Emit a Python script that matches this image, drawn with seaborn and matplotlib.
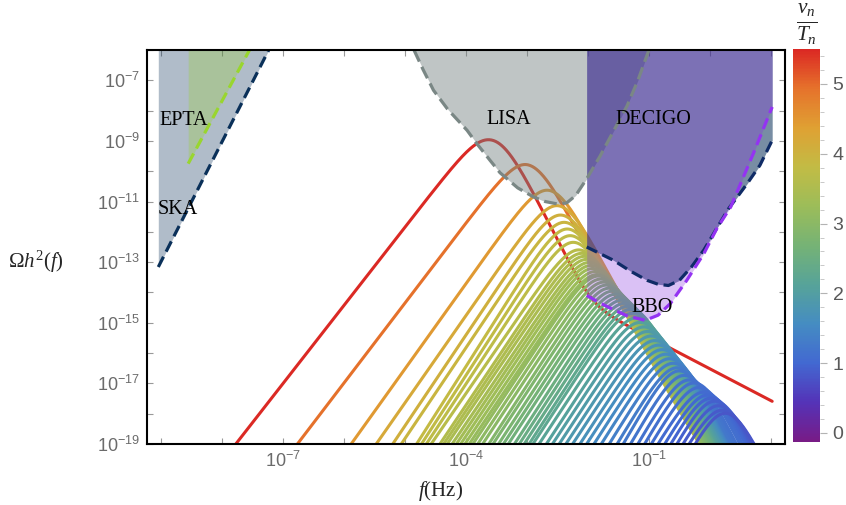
import numpy as np
import matplotlib
matplotlib.use("Agg")
import matplotlib.pyplot as plt
import seaborn as sns
from matplotlib.colors import LinearSegmentedColormap, Normalize
from matplotlib.ticker import FixedLocator, FuncFormatter
from matplotlib.cm import ScalarMappable

# ---------------- data (log10 values) ----------------
# colour value v_n/T_n of every spectrum
vt = [5.50, 4.95, 4.45, 4.20, 4.05, 3.95, 3.85, 3.78, 3.72, 3.66,
      3.58, 3.52, 3.47, 3.41, 3.36, 3.30, 3.24, 3.18,
      3.12, 3.05, 2.98, 2.90, 2.83, 2.76, 2.68, 2.60, 2.52, 2.45, 2.38, 2.30,
      2.25, 2.17, 2.08, 2.00, 1.92, 1.84, 1.76, 1.68, 1.60, 1.52, 1.44, 1.36, 1.30,
      1.25, 1.20, 1.16, 1.12, 1.08, 1.04, 1.00, 0.96, 0.92, 0.88, 0.84, 0.80]
# log10 f where the spectrum crosses the bottom of the frame (rising side)
f_bottom = [-7.77, -6.75, -5.87, -5.46, -5.19, -5.05, -4.80, -4.72, -4.64, -4.56,
            -4.42, -4.36, -4.30, -4.22, -4.15, -4.08, -4.01, -3.94,
            -3.88, -3.80, -3.72, -3.62, -3.55, -3.46, -3.38, -3.30, -3.20, -3.12, -3.04, -2.96,
            -2.90, -2.80, -2.68, -2.58, -2.47, -2.36, -2.25, -2.13, -2.02, -1.90, -1.78, -1.65, -1.52,
            -1.42, -1.30, -1.18, -1.07, -0.96, -0.85, -0.74, -0.64, -0.54, -0.44, -0.34, -0.24]
# log10 peak frequency
f_peak = [-3.63, -3.03, -2.67, -2.51, -2.45, -2.39, -2.34, -2.29, -2.24, -2.15,
          -2.10, -2.06, -2.02, -1.98, -1.95, -1.92, -1.88, -1.85,
          -1.83, -1.79, -1.74, -1.70, -1.65, -1.60, -1.55, -1.50, -1.45, -1.40, -1.35, -1.30,
          -1.26, -1.20, -1.14, -1.08, -1.02, -0.96, -0.90, -0.84, -0.78, -0.72, -0.66, -0.60, -0.54,
          -0.50, -0.42, -0.34, -0.26, -0.18, -0.10, -0.04, 0.02, 0.08, 0.14, 0.20, 0.25]
# log10 peak amplitude
omega_peak = [-8.96, -9.84, -10.69, -11.20, -11.51, -11.75, -11.97, -12.19, -12.41, -12.66,
              -12.75, -12.85, -12.95, -13.05, -13.15, -13.25, -13.35, -13.45,
              -13.50, -13.60, -13.70, -13.80, -13.90, -14.00, -14.10, -14.20, -14.30, -14.40, -14.50, -14.60,
              -14.70, -14.85, -15.00, -15.15, -15.30, -15.45, -15.60, -15.75, -15.90, -16.05, -16.20, -16.35, -16.50,
              -16.60, -16.75, -16.90, -17.00, -17.15, -17.30, -17.40, -17.50, -17.60, -17.75, -17.90, -18.00]
# high-frequency tail: amplitude relative to the peak (log10) and slope
tail_rel = [-4.05, -0.82, -0.80, -0.80, -0.80, -0.80, -0.80, -0.80, -0.80, -0.80] + [-1.0] * 20 + [-1.5] * 25
tail_slope = [1.05, 2.67, 2.8, 2.8, 2.9, 2.9, 2.9, 3.0, 3.0, 3.0] + [3.0] * 45
f_max = 1.02  # last computed frequency (log10)

# detector sensitivity curves (log10 f, log10 Omega h^2)
ska_f, ska_o = [-9.04, -7.23], [-13.16, -6.0]
epta_f, epta_o = [-8.55, -7.545], [-9.75, -6.0]
lisa_f = [-4.85, -4.70, -4.53, -4.30, -3.98, -3.82, -3.60, -3.44, -3.15, -2.89, -2.70,
          -2.50, -2.35, -2.20, -2.02, -1.80, -1.60, -1.36, -1.18, -1.00]
lisa_o = [-6.0, -6.65, -7.33, -7.95, -8.65, -9.09, -9.65, -10.05, -10.55, -10.85, -11.0,
          -11.08, -11.05, -10.8, -10.25, -9.5, -8.75, -7.85, -7.0, -6.0]
decigo_f = [-2.02, -1.8, -1.58, -1.3, -1.03, -0.85, -0.68, -0.5, -0.3, -0.1, 0.06,
            0.3, 0.61, 0.82, 1.02]
decigo_o = [-12.5, -12.72, -12.94, -13.3, -13.6, -13.73, -13.77, -13.6, -13.15, -12.6,
            -12.06, -11.25, -10.41, -9.8, -8.98]
bbo_f = [-2.02, -1.8, -1.6, -1.35, -1.06, -0.85, -0.65, -0.38, -0.1, 0.11, 0.34, 0.71, 1.02]
bbo_o = [-14.1, -14.35, -14.55, -14.78, -14.92, -14.75, -14.37, -13.6, -12.72, -11.9,
         -11.18, -9.42, -7.88]

detector_names = ["EPTA", "SKA", "LISA", "DECIGO", "BBO"]
label_pos_f = [-8.63, -8.72, -3.30, -0.92, -0.94]
label_pos_o = [-8.32, -11.26, -8.30, -8.30, -14.49]

cbar_ticks = [0, 1, 2, 3, 4, 5]
x_label_exp = [-7, -4, -1]
y_label_exp = [-19, -17, -15, -13, -11, -9, -7]

# ---------------- style ----------------
sns.set_theme(style="white")
plt.rcParams.update({
    "font.family": ["Liberation Sans", "DejaVu Sans"],
    "mathtext.fontset": "custom",
    "mathtext.rm": "Liberation Serif",
    "mathtext.it": "Liberation Serif:italic",
    "mathtext.bf": "Liberation Serif:bold",
    "axes.edgecolor": "black",
    "axes.linewidth": 1.5,
})

rainbow = LinearSegmentedColormap.from_list("mma_rainbow", [
    (0.00, (0.471, 0.108, 0.527)),
    (0.10, (0.330, 0.200, 0.720)),
    (0.20, (0.260, 0.410, 0.820)),
    (0.30, (0.270, 0.550, 0.760)),
    (0.40, (0.340, 0.640, 0.600)),
    (0.50, (0.460, 0.700, 0.460)),
    (0.60, (0.610, 0.740, 0.350)),
    (0.70, (0.760, 0.735, 0.270)),
    (0.80, (0.875, 0.630, 0.200)),
    (0.90, (0.900, 0.450, 0.170)),
    (1.00, (0.860, 0.160, 0.140)),
])
norm = Normalize(vmin=-0.13, vmax=5.5)

fig = plt.figure(figsize=(8.46, 5.05), dpi=100)
ax = fig.add_axes([0.1734, 0.1208, 0.7545, 0.7802])
ax.set_xscale("log")
ax.set_yscale("log")


def sw_shape(x, a, b=4.0, c=3.0):
    return ((a + b) / (b * x ** (-a / c) + a * x ** (b / c))) ** c


def solve_slope(x0, target):
    lo, hi = 1.0, 8.0
    for _ in range(60):
        mid = 0.5 * (lo + hi)
        if np.log10(sw_shape(x0, mid)) > target:
            lo = mid
        else:
            hi = mid
    return 0.5 * (lo + hi)


logf = np.linspace(-9.4, f_max, 900)
freq = 10.0 ** logf
order = np.argsort(vt)[::-1]  # red first, blue last (on top)
for i in order:
    a = solve_slope(10.0 ** (f_bottom[i] - f_peak[i]), -19.0 - omega_peak[i])
    x = 10.0 ** (logf - f_peak[i])
    sw = 10.0 ** omega_peak[i] * sw_shape(x, a)
    s = tail_slope[i]
    tb = 10.0 ** (omega_peak[i] + tail_rel[i]) * 2 * x ** a / (1 + x ** (a + s))
    om = np.clip(sw + tb, 1e-22, None)
    sns.lineplot(x=freq, y=om, color=rainbow(norm(vt[i])), lw=2.2, ax=ax,
                 estimator=None, sort=False, legend=False, zorder=2)

# ---------------- detector regions ----------------
top = 1e-6
navy = (0.04, 0.19, 0.35)


def region(fx, ox, fill, alpha, line, dashes, z):
    fx = 10.0 ** np.array(fx)
    ox = 10.0 ** np.array(ox)
    ax.fill_between(fx, ox, top, color=fill, alpha=alpha, lw=0, zorder=z)
    ax.plot(fx, ox, color=line, lw=2.3, dashes=dashes, zorder=z + 0.5,
            solid_capstyle="butt", dash_capstyle="butt")


region(lisa_f, lisa_o, (0.45, 0.50, 0.50), 0.45, (0.48, 0.53, 0.52), (4.0, 1.8), 3)
region(ska_f, ska_o, navy, 0.32, navy, (3.6, 1.8), 3.1)
region(epta_f, epta_o, (0.60, 0.82, 0.20), 0.30, (0.60, 0.84, 0.18), (3.6, 1.8), 3.2)
region(decigo_f, decigo_o, navy, 0.55, (0.06, 0.17, 0.40), (3.6, 1.8), 3.3)
region(bbo_f, bbo_o, (0.53, 0.20, 0.87), 0.30, (0.58, 0.20, 0.95), (3.6, 1.8), 3.4)

for name, lf, lo_ in zip(detector_names, label_pos_f, label_pos_o):
    ax.text(10 ** lf, 10 ** lo_, name, ha="center", va="center", fontsize=14.5,
            family="Liberation Serif", color="black", zorder=6)

# ---------------- axes ----------------
ax.set_xlim(10 ** -9.23, 10 ** 1.23)
ax.set_ylim(1e-19, 1e-6)
ax.xaxis.set_major_locator(FixedLocator([10.0 ** k for k in range(-9, 2)]))
ax.yaxis.set_major_locator(FixedLocator([10.0 ** k for k in range(-19, -5)]))
ax.xaxis.set_minor_locator(FixedLocator([]))
ax.yaxis.set_minor_locator(FixedLocator([]))


def make_fmt(show):
    def fmt(v, pos):
        k = int(round(np.log10(v)))
        return r"$\mathdefault{10^{%d}}$" % k if k in show else ""
    return FuncFormatter(fmt)


ax.xaxis.set_major_formatter(make_fmt(x_label_exp))
ax.yaxis.set_major_formatter(make_fmt(y_label_exp))
ax.tick_params(axis="both", which="major", direction="in", length=4, width=0.8,
               color=(0.6, 0.6, 0.6), labelcolor=(0.42, 0.42, 0.42), labelsize=13,
               top=True, right=True, bottom=True, left=True)
ax.tick_params(axis="x", pad=5)
ax.tick_params(axis="y", pad=5)
for sp in ax.spines.values():
    sp.set_visible(True)
    sp.set_color("black")
    sp.set_linewidth(1.5)
    sp.set_zorder(10)

ax.set_ylabel(r"$\Omega h^2(f)$", rotation=0, fontsize=15, ha="center", va="center")
ax.yaxis.set_label_coords(-0.173, 0.462)
ax.set_xlabel(r"$f\mathrm{(Hz)}$", fontsize=15, ha="center", va="center")
ax.xaxis.set_label_coords(0.461, -0.119)

# ---------------- colour bar ----------------
cax = fig.add_axes([0.9374, 0.1248, 0.0319, 0.778])
sm = ScalarMappable(norm=norm, cmap=rainbow)
cb = fig.colorbar(sm, cax=cax)
cb.outline.set_visible(False)
cb.set_ticks(cbar_ticks)
cb.ax.yaxis.set_minor_locator(FixedLocator(list(np.arange(0.0, 5.5, 0.2))))
cb.ax.tick_params(which="major", length=5, width=0.8, color=(0.7, 0.7, 0.7),
                  labelcolor=(0.35, 0.35, 0.35), labelsize=14, pad=4)
cb.ax.tick_params(which="minor", length=3, width=0.6, color=(0.75, 0.75, 0.75))
fig.text(0.954, 0.952, r"$\frac{v_n}{T_n}$", ha="center", va="center", fontsize=22)

fig.savefig("out.png", dpi=100)
